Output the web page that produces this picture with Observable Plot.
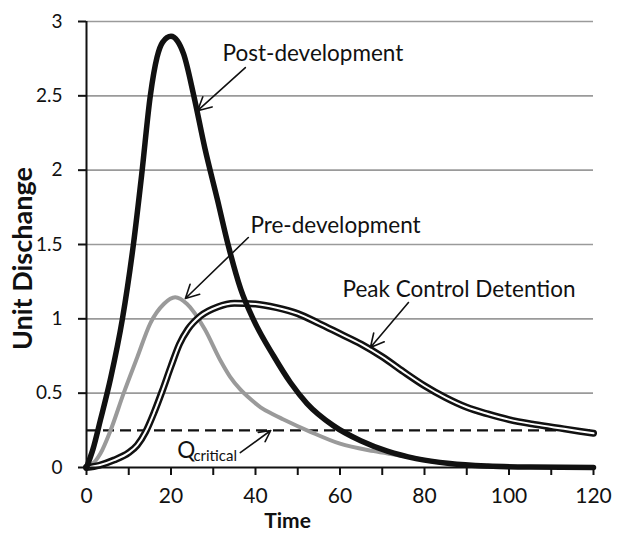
<!DOCTYPE html>
<html>
<head>
<meta charset="utf-8">
<script src="https://cdn.jsdelivr.net/npm/d3@7"></script>
<script src="https://cdn.jsdelivr.net/npm/@observablehq/plot@0.6"></script>
<style>
  html, body { margin: 0; padding: 0; background: #fff; }
  #chart svg { display: block; }
</style>
</head>
<body>
<div id="chart"></div>
<script>
// ---- Data ----
const postTime  = [0, 1.5, 3.3, 5.7, 8.5, 11.1, 13.1, 15.1, 16.7, 18, 20, 21.5, 23, 25.4, 28, 31, 33.5, 36.5, 39.6, 44.3, 48.3, 52.2, 58.5, 64.9, 71.2, 78, 86, 95, 105, 120];
const postValue = [0, 0.12, 0.32, 0.6, 1.0, 1.5, 1.98, 2.5, 2.76, 2.86, 2.9, 2.87, 2.78, 2.5, 2.15, 1.8, 1.5, 1.2, 0.99, 0.75, 0.57, 0.43, 0.28, 0.18, 0.11, 0.06, 0.027, 0.01, 0.003, 0];

const preTime  = [0, 2, 3.3, 5.7, 8.8, 12, 15.1, 18.3, 21, 23.8, 28, 31.7, 34, 36.4, 39, 41.2, 44, 46.5, 53, 60, 68, 74.3, 80, 86, 92, 100];
const preValue = [0, 0.04, 0.094, 0.25, 0.5, 0.74, 0.97, 1.1, 1.145, 1.1, 0.93, 0.72, 0.61, 0.525, 0.455, 0.405, 0.36, 0.325, 0.24, 0.16, 0.11, 0.08, 0.05, 0.025, 0.01, 0];

const pcdTime  = [0, 3, 6.5, 10, 12, 14, 16, 18, 20, 22, 24, 27, 31, 35, 40, 45, 50, 55, 60, 65, 70, 75, 80, 85, 90, 95, 100, 106, 113, 120];
const pcdValue = [0, 0.015, 0.05, 0.1, 0.15, 0.24, 0.37, 0.52, 0.68, 0.83, 0.93, 1.02, 1.08, 1.105, 1.1, 1.075, 1.035, 0.97, 0.9, 0.83, 0.745, 0.645, 0.55, 0.47, 0.405, 0.36, 0.322, 0.29, 0.26, 0.23];

const qCritical = 0.25;

const xTicks = [0, 10, 20, 30, 40, 50, 60, 70, 80, 90, 100, 110, 120];
const xTickLabels = ["0", "", "20", "", "40", "", "60", "", "80", "", "100", "", "120"];
const yTicks = [0, 0.5, 1, 1.5, 2, 2.5, 3];
const yTickLabels = ["0", "0.5", "1", "1.5", "2", "2.5", "3"];

const xTitle = "Time";
const yTitle = "Unit Dischange";

// annotation labels and arrows (in data units)
const labelText = ["Post-development", "Pre-development", "Peak Control Detention", "Q"];
const labelX    = [32.2, 38.8, 60.6, 21.5];
const labelY    = [2.784, 1.627, 1.197, 0.114];
const subText = ["critical"];
const subX    = [25.3];
const subY    = [0.079];

const arrowX1 = [37.6, 38.3, 76.2, 36.4];
const arrowY1 = [2.69, 1.547, 1.11, 0.10];
const arrowX2 = [26.3, 23.4, 67.2, 43.6];
const arrowY2 = [2.40, 1.137, 0.807, 0.249];

// ---- Build tables ----
const toRows = (xs, ys) => xs.map((x, i) => ({x, y: ys[i]}));
const post = toRows(postTime, postValue);
const pre = toRows(preTime, preValue);
const pcd = toRows(pcdTime, pcdValue);
const labels = labelText.map((t, i) => ({t, x: labelX[i], y: labelY[i]}));
const subs = subText.map((t, i) => ({t, x: subX[i], y: subY[i]}));
const arrows = arrowX1.map((x1, i) => ({x1, y1: arrowY1[i], x2: arrowX2[i], y2: arrowY2[i]}));

const ink = "#111";
const font = "Lato, 'Open Sans', sans-serif";

const chart = Plot.plot({
  width: 622,
  height: 534,
  marginLeft: 86,
  marginRight: 29,
  marginTop: 21,
  marginBottom: 67,
  style: {fontFamily: font, background: "#fff", color: ink},
  x: {domain: [0, 120]},
  y: {domain: [0, 3]},
  marks: [
    Plot.ruleY(yTicks.filter(d => d > 0), {stroke: "#9a9a9a", strokeWidth: 1.6}),
    Plot.ruleY([qCritical], {stroke: ink, strokeWidth: 2.2, strokeDasharray: "11,6"}),
    Plot.line(pre, {x: "x", y: "y", stroke: "#9a9a9a", strokeWidth: 4, curve: "monotone-x"}),
    Plot.line(pcd, {x: "x", y: "y", stroke: ink, strokeWidth: 7, curve: "monotone-x", strokeLinecap: "round"}),
    Plot.line(pcd, {x: "x", y: "y", stroke: "#fff", strokeWidth: 2, curve: "monotone-x", strokeLinecap: "round"}),
    Plot.line(post, {x: "x", y: "y", stroke: ink, strokeWidth: 5.5, curve: "monotone-x", strokeLinejoin: "round"}),
    Plot.ruleX([0], {stroke: ink, strokeWidth: 2}),
    Plot.ruleY([0], {stroke: ink, strokeWidth: 2}),
    Plot.axisY({ticks: yTicks, tickFormat: (d) => yTickLabels[yTicks.indexOf(d)], tickSize: 8, tickPadding: 16, fontSize: 19, label: null, stroke: ink, strokeWidth: 2, fill: ink}),
    Plot.axisX({ticks: xTicks, tickFormat: (d) => xTickLabels[xTicks.indexOf(d)], tickSize: 8, tickPadding: 13, fontSize: 21, label: null, stroke: ink, strokeWidth: 2, fill: ink}),
    Plot.arrow(arrows, {x1: "x1", y1: "y1", x2: "x2", y2: "y2", stroke: ink, strokeWidth: 1.6, headLength: 14, headAngle: 55}),
    Plot.text(labels, {x: "x", y: "y", text: "t", textAnchor: "start", fontSize: 22.5, fill: ink}),
    Plot.text(subs, {x: "x", y: "y", text: "t", textAnchor: "start", fontSize: 15, fill: ink}),
    Plot.text([xTitle], {x: 47.6, y: -0.365, text: d => d, textAnchor: "middle", fontSize: 21, fontWeight: "bold", fill: ink}),
    Plot.text([yTitle], {x: -14.9, y: 1.405, text: d => d, rotate: -90, textAnchor: "middle", fontSize: 27, fontWeight: "bold", fill: ink})
  ]
});
document.getElementById("chart").appendChild(chart);
</script>
</body>
</html>
